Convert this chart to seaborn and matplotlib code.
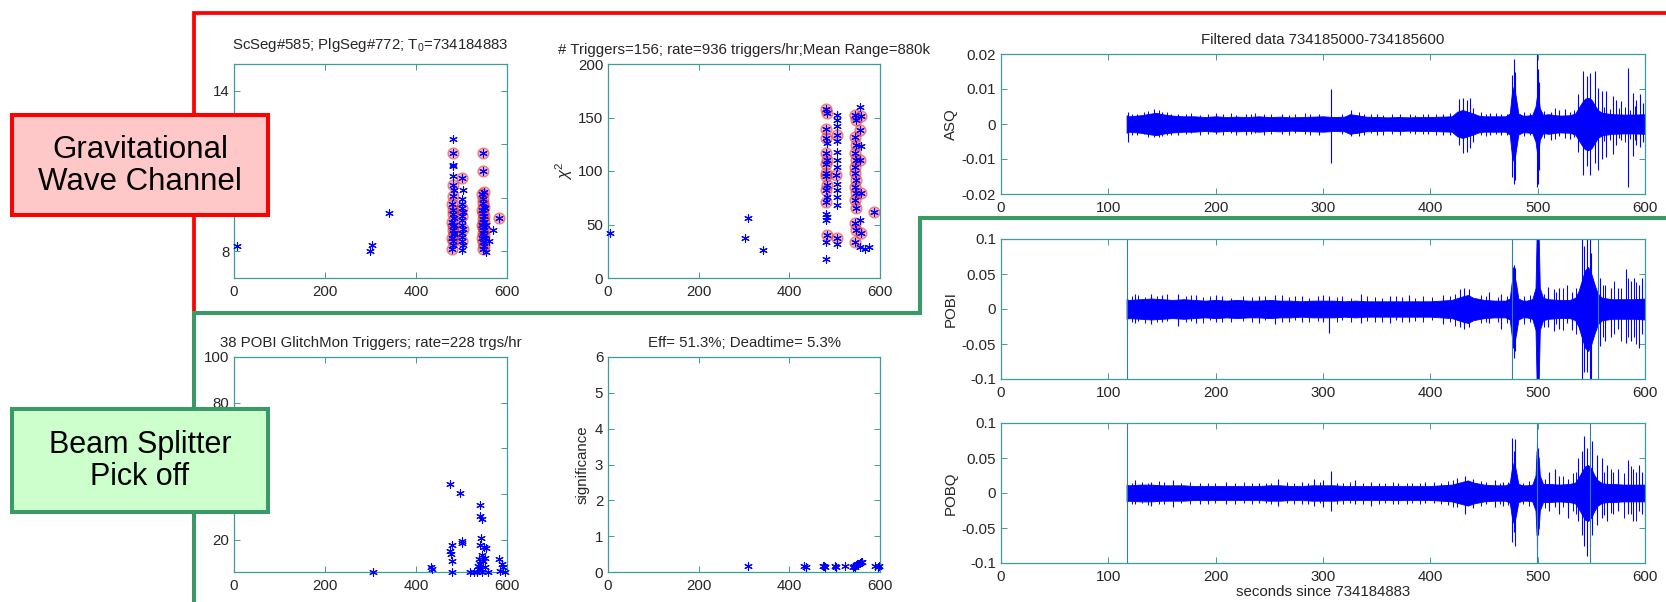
import numpy as np
import pandas as pd
import matplotlib
matplotlib.use("Agg")
import matplotlib.pyplot as plt
import seaborn as sns
from matplotlib.lines import Line2D
from matplotlib.patches import Rectangle

# ---------------- data ----------------
# Gravitational wave channel triggers (panel: SNR-like value vs time)
gw_time = [7, 299, 304, 340,
           481, 481, 482, 481, 482, 481, 483, 481, 480, 482, 481, 483, 480, 482, 481, 483, 480, 482, 481, 480, 484, 484,
           501, 503, 501, 502, 501, 503, 500, 502, 501, 503, 500, 502, 501, 503, 501,
           547, 547, 549, 546, 548, 547, 549, 546, 548, 550, 547, 549, 546, 548, 550, 547, 549, 546, 548, 550, 547, 552, 553, 551,
           554, 561, 570, 583]
gw_snr = [8.18, 8.0, 8.24, 9.44,
          12.18, 11.69, 11.24, 11.19, 10.81, 10.49, 10.30, 10.08, 9.75, 9.55, 9.40, 9.25, 9.10, 8.95, 8.80, 8.65, 8.50, 8.40, 8.25, 8.09, 9.0, 8.7,
          10.74, 10.30, 9.94, 9.78, 9.60, 9.45, 9.30, 9.15, 9.00, 8.85, 8.70, 8.55, 8.40, 8.25, 8.05,
          11.69, 10.99, 10.22, 10.15, 9.95, 9.80, 9.65, 9.55, 9.42, 9.30, 9.20, 9.10, 9.00, 8.90, 8.80, 8.70, 8.60, 8.50, 8.35, 8.20, 8.10, 9.6, 9.0, 8.5,
          7.96, 8.4, 8.8, 9.25]
gw_snr_veto = [0, 0, 0, 0,
               0, 1, 0, 0, 0, 1, 0, 1, 1, 1, 1, 0, 1, 1, 1, 0, 1, 1, 0, 1, 0, 1,
               1, 0, 0, 0, 1, 0, 1, 0, 0, 1, 0, 0, 1, 0, 0,
               1, 1, 1, 1, 1, 1, 1, 1, 1, 1, 1, 1, 1, 1, 1, 1, 1, 1, 1, 1, 1, 0, 0, 0,
               0, 0, 0, 1]

# chi^2 panel
chi_time = [5, 303, 309, 343,
            481, 481, 482, 481, 482, 481, 480, 481, 482, 481, 480, 481, 482, 481, 480, 481, 482, 481, 483, 483,
            505, 506, 505, 505, 506, 505, 506, 505, 504, 506, 505, 505, 506, 505, 506,
            545, 546, 545, 546, 545, 546, 545, 544, 546, 545, 546, 545, 546, 545, 546, 545,
            556, 557, 556, 557, 556, 557, 556, 557, 556,
            566, 575, 586]
chi2 = [42.5, 37, 56, 26,
        18, 34, 40, 54, 57, 60, 71, 82, 87, 95, 98, 107, 110, 117, 131, 139, 154, 158, 126, 76,
        152, 148, 142, 134, 128, 118, 110, 104, 96, 88, 82, 76, 68, 37, 32,
        152, 148, 132, 124, 117, 110, 104, 98, 92, 85, 79, 73, 65, 51, 45, 34,
        160, 151, 138, 123, 110, 79, 54, 42, 29,
        27, 29, 62]
chi_veto = [0, 0, 0, 0,
            0, 0, 1, 0, 0, 0, 1, 1, 1, 1, 1, 1, 1, 1, 1, 1, 1, 1, 0, 0,
            0, 0, 0, 1, 0, 0, 0, 0, 1, 0, 0, 0, 0, 1, 0,
            1, 1, 1, 1, 1, 1, 1, 1, 1, 1, 1, 1, 1, 1, 1, 1,
            0, 1, 1, 0, 1, 1, 0, 1, 0,
            0, 0, 1]

# POBI GlitchMon triggers
pobi_trig_time = [305, 433, 436, 475, 479, 474, 477, 479, 479, 497, 500, 540, 541, 546, 542, 541, 550, 554, 539, 541,
                  539, 533, 519, 527, 544, 548, 551, 558, 583, 589, 591, 596, 584, 545, 552, 537, 543, 502]
pobi_trig_val = [6, 8, 7.1, 44.3, 18, 15, 13.9, 11, 6, 40.5, 19.7, 35.4, 30.7, 29.2, 20.9, 18, 17.1, 16.5, 11.7, 9.5,
                 7.3, 6.2, 6, 6, 6, 10.6, 8, 6, 11.7, 9.5, 8, 6, 6.5, 13.5, 12, 8.5, 7.5, 18.5]

# veto significance
veto_time = [309, 433, 436, 475, 479, 477, 501, 503, 522, 540, 543, 545, 547, 549, 552, 555, 558, 560, 590, 596, 598]
veto_sig = [0.16, 0.16, 0.15, 0.16, 0.14, 0.18, 0.16, 0.14, 0.16, 0.14, 0.17, 0.15, 0.19, 0.21, 0.23, 0.25, 0.27, 0.28,
            0.16, 0.15, 0.17]

# ASQ filtered data: band envelope + individual glitches
asq_env_t = [117, 119, 130, 140, 145, 150, 160, 170, 180, 190, 200, 210, 220, 230, 240, 250, 260, 270, 280, 290,
             300, 310, 320, 325, 330, 340, 350, 360, 370, 380, 390, 400, 410, 420, 425, 430, 435, 440, 445, 450,
             460, 470, 474, 476, 478, 480, 482, 486, 490, 495, 498, 500, 502, 505, 510, 520, 530, 535, 538, 541,
             544, 547, 550, 553, 556, 560, 565, 570, 580, 590, 600]
asq_env = [0.0025, 0.0022, 0.0025, 0.0030, 0.0032, 0.0028, 0.0024, 0.0022, 0.0022, 0.0020,
           0.0022, 0.0020, 0.0021, 0.0020, 0.0022, 0.0020, 0.0021, 0.0019, 0.0020, 0.0021,
           0.0022, 0.0020, 0.0021, 0.0028, 0.0026, 0.0021, 0.0020, 0.0019, 0.0020, 0.0019,
           0.0020, 0.0020, 0.0021, 0.0022, 0.0035, 0.0040, 0.0035, 0.0030, 0.0024, 0.0022,
           0.0022, 0.0022, 0.0030, 0.0090, 0.0110, 0.0070, 0.0030, 0.0024, 0.0024, 0.0026,
           0.0050, 0.0095, 0.0045, 0.0026, 0.0028, 0.0024, 0.0025, 0.0030, 0.0045, 0.0060,
           0.0072, 0.0075, 0.0070, 0.0055, 0.0040, 0.0032, 0.0030, 0.0028, 0.0027, 0.0027, 0.0028]
asq_spike_t = [118, 143, 150, 165, 200, 228, 262, 296, 307, 326, 350, 372, 398, 412, 427, 430, 434, 437, 440, 456,
               466, 476, 478, 479, 499, 500, 501, 512, 520, 525, 530, 538, 542, 546, 549, 553, 556, 560, 564, 570,
               573, 578, 584, 589, 592, 595, 598]
asq_spike_hi = [0.0035, 0.0042, 0.0035, 0.0030, 0.0032, 0.0028, 0.0030, 0.0030, 0.0100, 0.0040,
                0.0030, 0.0028, 0.0030, 0.0028, 0.0072, 0.0075, 0.0070, 0.0075, 0.0045, 0.0032,
                0.0028, 0.0140, 0.0186, 0.0150, 0.0200, 0.0157, 0.0120, 0.0035, 0.0040, 0.0042,
                0.0035, 0.0085, 0.0152, 0.0137, 0.0147, 0.0152, 0.0104, 0.0094, 0.0094, 0.0080,
                0.0070, 0.0065, 0.0160, 0.0090, 0.0070, 0.0085, 0.0060]
asq_spike_lo = [-0.0050, -0.0038, -0.0035, -0.0030, -0.0028, -0.0030, -0.0028, -0.0030, -0.0110, -0.0035,
                -0.0032, -0.0030, -0.0028, -0.0030, -0.0060, -0.0084, -0.0080, -0.0068, -0.0050, -0.0030,
                -0.0032, -0.0150, -0.0170, -0.0160, -0.0180, -0.0170, -0.0130, -0.0045, -0.0035, -0.0040,
                -0.0042, -0.0080, -0.0146, -0.0120, -0.0146, -0.0110, -0.0130, -0.0100, -0.0095, -0.0085,
                -0.0060, -0.0045, -0.0180, -0.0090, -0.0060, -0.0065, -0.0050]
asq_fine_t = [122, 127, 133, 137, 147, 155, 158, 172, 177, 185, 193, 207, 214, 219, 233, 237, 245, 252, 268, 274,
              283, 288, 318, 334, 338, 345, 356, 364, 381, 386, 393, 405, 418, 447, 452, 461, 471, 487, 493, 506,
              516, 534, 562, 567, 576, 581, 586, 591]
asq_fine_hi = [0.0030, 0.0028, 0.0033, 0.0036, 0.0040, 0.0034, 0.0030, 0.0029, 0.0031, 0.0027,
               0.0030, 0.0028, 0.0032, 0.0027, 0.0029, 0.0031, 0.0028, 0.0030, 0.0027, 0.0029,
               0.0032, 0.0028, 0.0030, 0.0035, 0.0030, 0.0028, 0.0027, 0.0029, 0.0028, 0.0026,
               0.0030, 0.0029, 0.0031, 0.0033, 0.0029, 0.0031, 0.0030, 0.0035, 0.0032, 0.0036,
               0.0045, 0.0040, 0.0050, 0.0042, 0.0045, 0.0048, 0.0040, 0.0052]
asq_fine_lo = [-0.0032, -0.0030, -0.0029, -0.0038, -0.0036, -0.0030, -0.0032, -0.0028, -0.0027, -0.0030,
               -0.0029, -0.0031, -0.0027, -0.0030, -0.0028, -0.0027, -0.0031, -0.0028, -0.0030, -0.0027,
               -0.0029, -0.0031, -0.0028, -0.0034, -0.0032, -0.0027, -0.0030, -0.0028, -0.0027, -0.0029,
               -0.0028, -0.0030, -0.0032, -0.0030, -0.0033, -0.0028, -0.0031, -0.0033, -0.0030, -0.0040,
               -0.0042, -0.0038, -0.0048, -0.0045, -0.0040, -0.0050, -0.0044, -0.0046]

# POBI / POBQ
pob_env_t = [117, 119, 130, 140, 150, 160, 170, 180, 190, 200, 210, 220, 230, 240, 250, 260, 270, 280, 290, 300,
             310, 320, 330, 340, 350, 360, 370, 380, 390, 400, 410, 420, 430, 435, 440, 450, 460, 470, 474, 476,
             478, 480, 482, 486, 490, 495, 498, 499, 501, 502, 505, 510, 520, 530, 535, 538, 541, 544, 547, 550,
             553, 556, 560, 565, 570, 580, 590, 600]
pobi_env = [0.014, 0.013, 0.014, 0.015, 0.014, 0.013, 0.014, 0.013, 0.012, 0.013,
            0.012, 0.013, 0.012, 0.012, 0.013, 0.012, 0.012, 0.011, 0.012, 0.012,
            0.012, 0.011, 0.012, 0.011, 0.011, 0.011, 0.011, 0.011, 0.011, 0.011,
            0.012, 0.013, 0.018, 0.020, 0.016, 0.013, 0.012, 0.012, 0.015, 0.040,
            0.050, 0.035, 0.015, 0.012, 0.012, 0.014, 0.030, 0.100, 0.100, 0.030,
            0.016, 0.014, 0.013, 0.013, 0.016, 0.025, 0.040, 0.055, 0.060, 0.050,
            0.035, 0.022, 0.016, 0.015, 0.014, 0.014, 0.014, 0.015]
pobi_spike_t = [125, 140, 150, 165, 182, 200, 240, 255, 280, 300, 306, 335, 362, 380, 412, 428, 431, 436, 455, 466,
                477, 478, 479, 499, 500, 510, 515, 520, 527, 532, 541, 543, 546, 549, 550, 558, 563, 568, 575, 582,
                587, 590, 594, 597]
pobi_spike_hi = [0.022, 0.022, 0.020, 0.022, 0.020, 0.020, 0.018, 0.020, 0.018, 0.020,
                 0.018, 0.022, 0.018, 0.020, 0.020, 0.028, 0.030, 0.028, 0.025, 0.022,
                 0.060, 0.063, 0.058, 0.12, 0.12, 0.032, 0.028, 0.030, 0.035, 0.025,
                 0.12, 0.09, 0.12, 0.12, 0.08, 0.044, 0.035, 0.030, 0.030, 0.057,
                 0.040, 0.045, 0.035, 0.045]
pobi_spike_lo = [-0.020, -0.022, -0.018, -0.024, -0.020, -0.018, -0.020, -0.022, -0.018, -0.018,
                 -0.034, -0.020, -0.020, -0.018, -0.022, -0.025, -0.028, -0.026, -0.020, -0.028,
                 -0.055, -0.070, -0.060, -0.12, -0.12, -0.025, -0.032, -0.028, -0.020, -0.030,
                 -0.12, -0.09, -0.09, -0.12, -0.10, -0.053, -0.045, -0.040, -0.028, -0.048,
                 -0.045, -0.040, -0.055, -0.035]
pobi_fine_t = [122, 128, 134, 145, 155, 172, 177, 188, 195, 206, 214, 225, 234, 246, 262, 268, 274, 287, 295, 313,
               318, 326, 341, 348, 355, 368, 374, 386, 393, 402, 418, 423, 447, 452, 463, 471, 487, 493, 506, 517,
               524, 536, 561, 571, 578, 584, 592]
pobi_fine_hi = [0.018, 0.020, 0.017, 0.019, 0.021, 0.018, 0.020, 0.017, 0.019, 0.018,
                0.016, 0.019, 0.017, 0.018, 0.020, 0.017, 0.019, 0.016, 0.018, 0.017,
                0.019, 0.016, 0.018, 0.017, 0.016, 0.018, 0.017, 0.016, 0.018, 0.017,
                0.019, 0.022, 0.020, 0.018, 0.017, 0.019, 0.018, 0.020, 0.022, 0.025,
                0.030, 0.030, 0.035, 0.040, 0.030, 0.045, 0.038]
pobi_fine_lo = [-0.019, -0.017, -0.020, -0.018, -0.017, -0.019, -0.017, -0.020, -0.016, -0.018,
                -0.019, -0.017, -0.018, -0.016, -0.018, -0.019, -0.016, -0.018, -0.017, -0.019,
                -0.016, -0.018, -0.017, -0.019, -0.018, -0.016, -0.018, -0.017, -0.019, -0.016,
                -0.018, -0.024, -0.020, -0.019, -0.018, -0.020, -0.022, -0.019, -0.025, -0.022,
                -0.030, -0.035, -0.040, -0.035, -0.045, -0.040, -0.050]
pobi_full_t = [117, 476.5, 556]

pobq_env = [0.012, 0.011, 0.012, 0.012, 0.011, 0.011, 0.011, 0.010, 0.010, 0.010,
            0.010, 0.010, 0.010, 0.010, 0.011, 0.011, 0.010, 0.010, 0.011, 0.011,
            0.011, 0.010, 0.010, 0.010, 0.010, 0.010, 0.010, 0.010, 0.010, 0.010,
            0.011, 0.012, 0.016, 0.018, 0.015, 0.012, 0.011, 0.011, 0.014, 0.035,
            0.045, 0.030, 0.013, 0.011, 0.011, 0.012, 0.025, 0.060, 0.050, 0.025,
            0.013, 0.013, 0.012, 0.013, 0.015, 0.022, 0.030, 0.038, 0.040, 0.035,
            0.025, 0.018, 0.014, 0.013, 0.013, 0.012, 0.012, 0.012]
pobq_spike_t = [125, 140, 160, 185, 210, 240, 258, 280, 292, 300, 307, 330, 345, 370, 395, 425, 432, 440, 460, 468,
                476, 477.5, 479, 499, 500, 511, 516, 520, 528, 538, 541, 543, 546, 551, 555, 560, 565, 570, 575, 584,
                589, 594, 597]
pobq_spike_hi = [0.018, 0.016, 0.018, 0.015, 0.016, 0.015, 0.020, 0.016, 0.020, 0.018,
                 0.031, 0.018, 0.016, 0.015, 0.016, 0.022, 0.025, 0.020, 0.018, 0.016,
                 0.078, 0.060, 0.077, 0.070, 0.065, 0.030, 0.035, 0.025, 0.020, 0.050,
                 0.060, 0.081, 0.065, 0.075, 0.055, 0.050, 0.040, 0.030, 0.035, 0.047,
                 0.035, 0.040, 0.030]
pobq_spike_lo = [-0.016, -0.018, -0.020, -0.016, -0.015, -0.014, -0.018, -0.015, -0.018, -0.020,
                 -0.025, -0.016, -0.018, -0.016, -0.014, -0.020, -0.030, -0.022, -0.020, -0.018,
                 -0.070, -0.055, -0.076, -0.078, -0.060, -0.025, -0.020, -0.030, -0.035, -0.040,
                 -0.060, -0.075, -0.090, -0.060, -0.045, -0.035, -0.040, -0.030, -0.025, -0.030,
                 -0.040, -0.025, -0.030]
pobq_fine_t = [122, 131, 137, 147, 152, 168, 176, 193, 199, 218, 226, 234, 247, 252, 266, 273, 286, 297, 313, 319,
               325, 337, 352, 358, 365, 378, 383, 390, 403, 410, 416, 421, 447, 452, 465, 472, 486, 492, 507, 524,
               533, 536, 562, 568, 580, 587, 592]
pobq_fine_hi = [0.015, 0.016, 0.014, 0.017, 0.016, 0.015, 0.016, 0.014, 0.015, 0.014,
                0.016, 0.014, 0.015, 0.014, 0.016, 0.015, 0.014, 0.016, 0.015, 0.014,
                0.016, 0.015, 0.014, 0.015, 0.016, 0.014, 0.015, 0.014, 0.016, 0.015,
                0.017, 0.019, 0.017, 0.016, 0.015, 0.016, 0.015, 0.017, 0.020, 0.024,
                0.028, 0.030, 0.030, 0.035, 0.028, 0.038, 0.030]
pobq_fine_lo = [-0.016, -0.014, -0.017, -0.015, -0.016, -0.014, -0.015, -0.016, -0.014, -0.015,
                -0.014, -0.016, -0.014, -0.015, -0.014, -0.016, -0.015, -0.014, -0.016, -0.015,
                -0.014, -0.015, -0.016, -0.014, -0.015, -0.016, -0.014, -0.015, -0.014, -0.016,
                -0.017, -0.020, -0.018, -0.016, -0.015, -0.017, -0.016, -0.018, -0.022, -0.020,
                -0.026, -0.030, -0.032, -0.028, -0.035, -0.030, -0.040]
pobq_full_t = [117, 499.5, 549]

time_ticks = [0, 100, 200, 300, 400, 500, 600]
asq_ticks = [-0.02, -0.01, 0, 0.01, 0.02]
asq_ticklabels = ['-0.02', '-0.01', '0', '0.01', '0.02']
pob_ticks = [-0.1, -0.05, 0, 0.05, 0.1]
pob_ticklabels = ['-0.1', '-0.05', '0', '0.05', '0.1']
snr_ticks = [8, 10, 12, 14]
snr_ticklabels = ['8', '', '', '14']          # 10 and 12 are hidden behind the label box
glitch_ticks = [20, 40, 60, 80, 100]
glitch_ticklabels = ['20', '', '', '80', '100']  # 40 and 60 are hidden behind the label box

# ---------------- style ----------------
sns.set_style("white")
plt.rcParams['font.family'] = ['Liberation Sans', 'DejaVu Sans']
plt.rcParams['mathtext.fontset'] = 'custom'
plt.rcParams['mathtext.rm'] = 'Liberation Sans'
plt.rcParams['mathtext.it'] = 'Liberation Sans:italic'

W, H = 1666, 602
fig = plt.figure(figsize=(W / 100, H / 100), dpi=100)
fig.patch.set_facecolor('white')

SPINE = '#3f9c9c'
TXT = '#262626'
BLUE = '#0000ff'
FS = 10.8


def px_axes(l, t, r, b):
    return fig.add_axes([l / W, 1 - b / H, (r - l) / W, (b - t) / H])


def style(ax):
    for s in ax.spines.values():
        s.set_visible(True)
        s.set_color(SPINE)
        s.set_linewidth(0.9)
    ax.tick_params(axis='both', direction='in', length=4, width=0.7, color=SPINE,
                   bottom=True, left=True, top=True, right=True, labelsize=FS, labelcolor=TXT)
    ax.tick_params(axis='x', pad=5)
    ax.tick_params(axis='y', pad=3.5)
    ax.set_xlabel('')
    ax.set_ylabel('')
    ax.grid(False)


def trig_panel(ax, t, v, veto=None):
    df = pd.DataFrame({'t': t, 'v': v})
    if veto is not None:
        df['veto'] = veto
        sns.scatterplot(data=df[df['veto'] == 1], x='t', y='v', marker='o', s=62,
                        color='#ff5050', edgecolor='#cc1010', alpha=0.42, linewidth=1.0,
                        ax=ax, clip_on=False, zorder=2)
    sns.scatterplot(data=df, x='t', y='v', marker=(6, 2, 0), s=30, color=BLUE,
                    linewidth=0.8, ax=ax, clip_on=False, zorder=3)


# Panel 1
ax1 = px_axes(234, 64, 507, 278)
trig_panel(ax1, gw_time, gw_snr, gw_snr_veto)
style(ax1)
ax1.set_xlim(0, 600)
ax1.set_ylim(7, 15)
ax1.set_xticks([0, 200, 400, 600])
ax1.set_yticks(snr_ticks)
ax1.set_yticklabels(snr_ticklabels)
ax1.set_title("ScSeg#585; PlgSeg#772; T$_0$=734184883", fontsize=FS, color=TXT, pad=11)

# Panel 2
ax2 = px_axes(608, 64, 880, 278)
trig_panel(ax2, chi_time, chi2, chi_veto)
style(ax2)
ax2.set_xlim(0, 600)
ax2.set_ylim(0, 200)
ax2.set_xticks([0, 200, 400, 600])
ax2.set_yticks([0, 50, 100, 150, 200])
ax2.set_ylabel(r'$\chi^2$', fontsize=FS + 1, color=TXT, labelpad=2)
ax2.set_title("# Triggers=156; rate=936 triggers/hr;Mean Range=880k", fontsize=FS, color=TXT, pad=7)

# Panel 3
ax3 = px_axes(234, 357, 507, 572)
trig_panel(ax3, pobi_trig_time, pobi_trig_val)
style(ax3)
ax3.set_xlim(0, 600)
ax3.set_ylim(6, 100)
ax3.set_xticks([0, 200, 400, 600])
ax3.set_yticks(glitch_ticks)
ax3.set_yticklabels(glitch_ticklabels)
ax3.set_title("38 POBI GlitchMon Triggers; rate=228 trgs/hr", fontsize=FS, color=TXT, pad=7)

# Panel 4
ax4 = px_axes(608, 357, 880, 572)
trig_panel(ax4, veto_time, veto_sig)
style(ax4)
ax4.set_xlim(0, 600)
ax4.set_ylim(0, 6)
ax4.set_xticks([0, 200, 400, 600])
ax4.set_yticks([0, 1, 2, 3, 4, 5, 6])
ax4.set_ylabel('significance', fontsize=FS, color=TXT, labelpad=4)
ax4.set_title("Eff= 51.3%; Deadtime= 5.3%", fontsize=FS, color=TXT, pad=7)


def trace_panel(ax, env_t, env, sp_t, sp_hi, sp_lo, fine_t, fine_hi, fine_lo, full_t, lim):
    env = np.asarray(env)
    ax.fill_between(env_t, -env, env, color=BLUE, linewidth=0.6, edgecolor=BLUE, zorder=2)
    ax.vlines(fine_t, fine_lo, fine_hi, color=BLUE, linewidth=0.7, zorder=2)
    ax.vlines(sp_t, sp_lo, sp_hi, color=BLUE, linewidth=0.8, zorder=2)
    if full_t:
        ax.vlines(full_t, -lim * 1.2, lim * 1.2, color='#2f7fa8', linewidth=0.8, zorder=2)
    style(ax)
    ax.set_xlim(0, 600)
    ax.set_ylim(-lim, lim)
    ax.set_xticks(time_ticks)


ax5 = px_axes(1001, 54, 1645, 194)
trace_panel(ax5, asq_env_t, asq_env, asq_spike_t, asq_spike_hi, asq_spike_lo,
            asq_fine_t, asq_fine_hi, asq_fine_lo, [], 0.02)
ax5.set_yticks(asq_ticks)
ax5.set_yticklabels(asq_ticklabels)
ax5.set_ylabel('ASQ', fontsize=FS, color=TXT, labelpad=3)
ax5.set_title("Filtered data 734185000-734185600", fontsize=FS, color=TXT, pad=7)

ax6 = px_axes(1001, 239, 1645, 379)
trace_panel(ax6, pob_env_t, pobi_env, pobi_spike_t, pobi_spike_hi, pobi_spike_lo,
            pobi_fine_t, pobi_fine_hi, pobi_fine_lo, pobi_full_t, 0.1)
ax6.set_yticks(pob_ticks)
ax6.set_yticklabels(pob_ticklabels)
ax6.set_ylabel('POBI', fontsize=FS, color=TXT, labelpad=3)

ax7 = px_axes(1001, 423, 1645, 563)
trace_panel(ax7, pob_env_t, pobq_env, pobq_spike_t, pobq_spike_hi, pobq_spike_lo,
            pobq_fine_t, pobq_fine_hi, pobq_fine_lo, pobq_full_t, 0.1)
ax7.set_yticks(pob_ticks)
ax7.set_yticklabels(pob_ticklabels)
ax7.set_ylabel('POBQ', fontsize=FS, color=TXT, labelpad=3)
ax7.set_xlabel('seconds since 734184883', fontsize=FS, color=TXT, labelpad=1)

# ---------------- frames and labels ----------------
def fx(x):
    return x / W


def fy(y):
    return 1 - y / H


red = Line2D([fx(194), fx(194), fx(1666)], [fy(313), fy(13), fy(13)], transform=fig.transFigure,
             color='#ff0000', linewidth=2.7, solid_joinstyle='miter', zorder=5)
green = Line2D([fx(194), fx(194), fx(920), fx(920), fx(1666)], [fy(602), fy(313), fy(313), fy(218), fy(218)],
               transform=fig.transFigure, color='#399a66', linewidth=2.9, solid_joinstyle='miter', zorder=5)
fig.add_artist(red)
fig.add_artist(green)

gw_box = Rectangle((fx(12), fy(215)), (268 - 12) / W, 100 / H, transform=fig.transFigure,
                   facecolor='#ffc8c8', edgecolor='#ff0000', linewidth=2.9, zorder=6)
bs_box = Rectangle((fx(12), fy(512)), (268 - 12) / W, 103 / H, transform=fig.transFigure,
                   facecolor='#ccffcc', edgecolor='#399a66', linewidth=2.9, zorder=6)
fig.add_artist(gw_box)
fig.add_artist(bs_box)
fig.text(fx(140), fy(166), "Gravitational\nWave Channel", ha='center', va='center', fontsize=22.5,
         color='black', linespacing=1.12, zorder=7)
fig.text(fx(140), fy(461), "Beam Splitter\nPick off", ha='center', va='center', fontsize=22,
         color='black', linespacing=1.12, zorder=7)

fig.savefig('out.png', dpi=100, facecolor='white')
